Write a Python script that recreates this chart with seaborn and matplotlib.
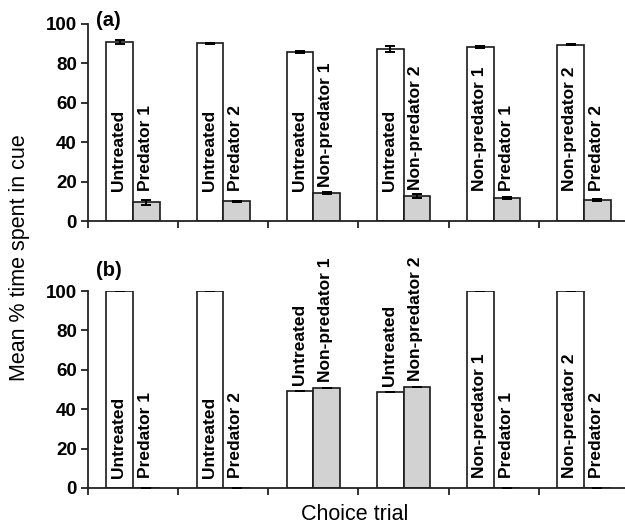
import numpy as np
import pandas as pd
import matplotlib
matplotlib.use("Agg")
import matplotlib.pyplot as plt
import seaborn as sns

# choice trials: left cue (white bar) vs right cue (grey bar)
left_cue = ["Untreated", "Untreated", "Untreated", "Untreated",
            "Non-predator 1", "Non-predator 2"]
right_cue = ["Predator 1", "Predator 2", "Non-predator 1", "Non-predator 2",
             "Predator 1", "Predator 2"]

# panel (a)
a_left = [90.8, 90.3, 85.8, 87.3, 88.3, 89.4]
a_left_err = [1.2, 0.3, 0.4, 1.3, 0.3, 0.3]
a_right = [9.4, 9.9, 14.3, 12.7, 11.7, 10.7]
a_right_err = [1.2, 0.4, 0.4, 1.0, 0.4, 0.3]

# panel (b)
b_left = [100.0, 100.0, 49.4, 48.9, 100.0, 100.0]
b_left_err = [0, 0, 0, 0, 0, 0]
b_right = [0.0, 0.0, 50.6, 51.1, 0.0, 0.0]
b_right_err = [0, 0, 0, 0, 0, 0]

sns.set_style("ticks")
plt.rcParams['font.family'] = ['Liberation Sans', 'DejaVu Sans']
plt.rcParams['axes.linewidth'] = 1.3
plt.rcParams['text.color'] = 'black'
plt.rcParams['xtick.color'] = 'black'
plt.rcParams['ytick.color'] = 'black'
plt.rcParams['axes.edgecolor'] = '#222222'

fig = plt.figure(figsize=(6.25, 5.27), dpi=100)
W, H = 625.0, 527.0
ax_a = fig.add_axes([88 / W, (H - 221) / H, 541 / W, 197 / H])
ax_b = fig.add_axes([88 / W, (H - 488) / H, 541 / W, 197 / H])


def panel(ax, left, left_err, right, right_err, lab_base):
    n = len(left)
    df = pd.DataFrame({
        "trial": list(range(n)) * 2,
        "side": ["L"] * n + ["R"] * n,
        "value": left + right,
    })
    sns.barplot(data=df, x="trial", y="value", hue="side",
                palette={"L": "white", "R": "#d2d2d2"},
                edgecolor="#1a1a1a", linewidth=1.2, width=0.59,
                errorbar=None, legend=False, ax=ax)
    # bars come out ordered by hue, then by trial
    bars = ax.patches[:2 * n]
    vals = left + right
    errs = left_err + right_err
    labels = left_cue + right_cue
    for i, p in enumerate(bars):
        xc = p.get_x() + p.get_width() / 2
        ax.errorbar(xc, vals[i], yerr=errs[i], color="black",
                    capsize=3.5, elinewidth=1.4, capthick=1.4, zorder=4)
        v = vals[i]
        if 5 < v < 60:
            ly = max(lab_base, v + 3)
        else:
            ly = lab_base
        ax.text(xc - 0.01, ly, labels[i], rotation=90, ha="center",
                va="bottom", fontsize=12.5, fontweight="bold")
    ax.set_ylim(0, 100)
    ax.set_xlim(-0.5, n - 0.5)
    ax.set_yticks([0, 20, 40, 60, 80, 100])
    ax.set_yticklabels(["0", "20", "40", "60", "80", "100"],
                       fontsize=13.5, fontweight="bold")
    ax.set_xticks(np.arange(-0.5, n, 1.0))
    ax.set_xticklabels([])
    ax.tick_params(axis="both", direction="out", length=5, width=1.3,
                   color="#222222", pad=3)
    ax.set_xlabel("")
    ax.set_ylabel("")
    sns.despine(ax=ax)


panel(ax_a, a_left, a_left_err, a_right, a_right_err, 15)
panel(ax_b, b_left, b_left_err, b_right, b_right_err, 5)

fig.text(96 / W, 1 - 21 / H, "(a)", fontsize=14.5, fontweight="bold",
         ha="left", va="center")
fig.text(96 / W, 1 - 270 / H, "(b)", fontsize=14.5, fontweight="bold",
         ha="left", va="center")
fig.text(20 / W, 1 - 258 / H, "Mean % time spent in cue", rotation=90,
         fontsize=15.5, ha="center", va="center")
fig.text(355 / W, 1 - 515 / H, "Choice trial", fontsize=15.5,
         ha="center", va="center")

fig.savefig("out.png", dpi=100)
